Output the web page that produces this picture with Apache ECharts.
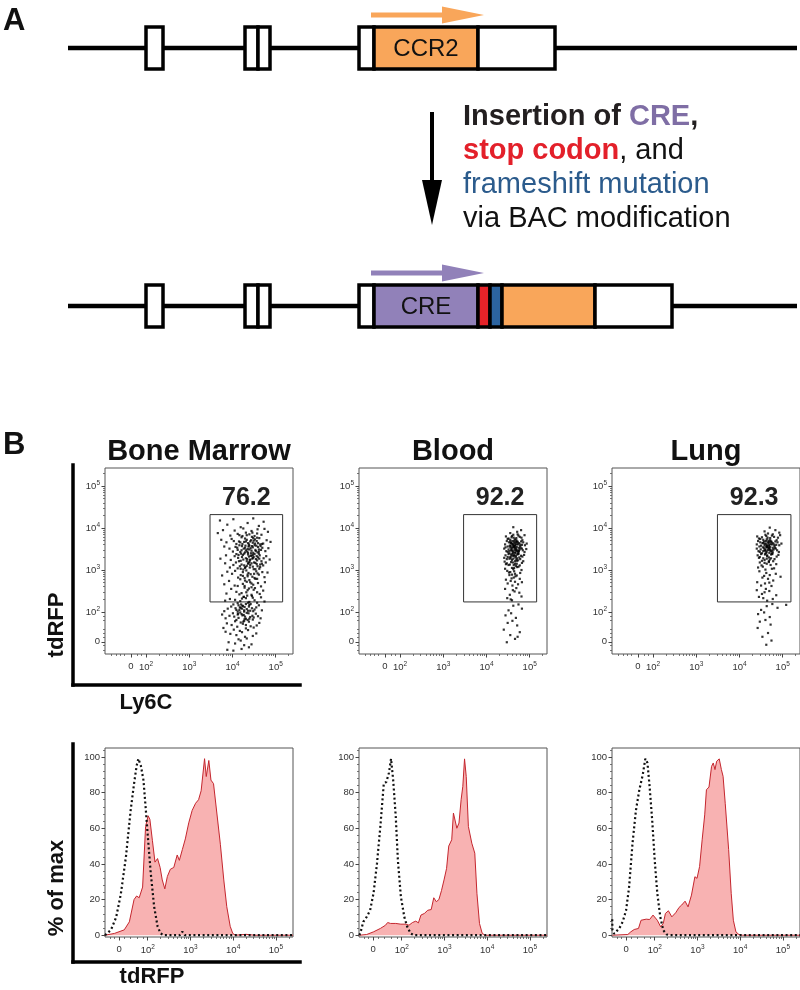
<!DOCTYPE html>
<html><head><meta charset="utf-8">
<script src="https://cdn.jsdelivr.net/npm/echarts@6/dist/echarts.min.js"></script>
<style>html,body{margin:0;padding:0;background:#fff}#c{width:800px;height:990px}</style>
</head><body><div id="c"></div>
<script>
const FONT = '"Liberation Sans", Arial, sans-serif';

// ---------- Panel A: gene diagram (gene coordinate units) ----------
const ROW_Y = [48, 306];
const geneBackbone = [[68, 797, 0], [68, 797, 1]];
const geneSegments = [
  [146,163,0,'exon'],[245,258,0,'exon'],[258,270,0,'exon'],[359,374,0,'exon'],[374,478,0,'ccr2'],[478,555,0,'exon'],
  [146,163,1,'exon'],[245,258,1,'exon'],[258,270,1,'exon'],[359,374,1,'exon'],[374,478,1,'cre'],[478,490,1,'stop'],[490,502,1,'frame'],[502,595,1,'ccr2'],[595,672,1,'exon']
];
const geneLabels = [[426,0,'CCR2'],[426,1,'CRE']];
const geneArrows = [[371,484,0,'ccr2'],[371,484,1,'cre']];
const modArrow = [[432,112,225]];
const GENE_COLORS = {exon:'#ffffff', ccr2:'#f9a65a', cre:'#9181b9', stop:'#e52329', frame:'#2c64a0'};

// ---------- Panel B: categories ----------
const tissues = ['Bone Marrow', 'Blood', 'Lung'];
const gatePercent = ['76.2', '92.2', '92.3'];
const gateX = [[3.48, 5.16], [3.47, 5.16], [3.49, 5.19]];
const gateY = [[2.24, 4.32], [2.24, 4.32], [2.24, 4.32]];

// tick labels (display units: 1 unit = 1 decade)
const expTickText = ['0', '10^2', '10^3', '10^4', '10^5'];
const scatterXTickVals = [1.65, 2, 3, 4, 5];
const scatterYTickVals = [1.29, 2, 3, 4, 5];
const histXTickVals = [1.33, 2, 3, 4, 5];
const histYTickVals = [0, 20, 40, 60, 80, 100];

// ---------- Ly6C (x) vs tdRFP (y) dots, display units ----------
const bmDots = [
[4.02,4.21],[4.35,4.12],[4.61,4.05],[3.88,4.08],[4.48,4.23],[4.19,4.02],[4.72,4.15],[3.71,4.18],
[4.44,3.93],[4.12,3.86],[4.58,3.97],[3.95,3.82],[4.31,3.89],[4.67,3.84],[4.25,3.99],[4.82,3.91],[3.78,3.95],[4.51,3.81],[4.05,3.94],[4.39,3.85],[4.74,3.98],[4.16,3.83],[3.66,3.88],
[4.33,3.72],[4.47,3.65],[4.21,3.78],[4.56,3.69],[4.09,3.62],[4.62,3.76],[4.38,3.61],[4.27,3.67],[4.71,3.63],[3.98,3.74],[4.45,3.79],[4.15,3.68],[4.52,3.73],[3.86,3.66],[4.79,3.71],[4.41,3.68],[4.29,3.75],[4.64,3.61],[4.03,3.69],[4.57,3.77],[3.74,3.72],[4.36,3.64],[4.88,3.67],[4.23,3.62],[4.49,3.70],
[4.42,3.52],[4.31,3.47],[4.55,3.58],[4.18,3.43],[4.61,3.49],[4.37,3.56],[4.26,3.51],[4.48,3.41],[4.07,3.55],[4.69,3.53],[4.34,3.44],[4.51,3.59],[4.12,3.48],[4.44,3.46],[4.58,3.42],[3.93,3.51],[4.39,3.58],[4.22,3.57],[4.76,3.45],[4.47,3.54],[4.29,3.42],[4.65,3.57],[4.01,3.44],[4.53,3.48],[4.35,3.50],[3.81,3.56],[4.83,3.52],[4.16,3.59],[4.43,3.40],[4.59,3.55],
[4.38,3.32],[4.46,3.27],[4.24,3.36],[4.57,3.23],[4.13,3.29],[4.63,3.35],[4.33,3.21],[4.51,3.38],[4.05,3.33],[4.41,3.25],[4.72,3.28],[4.27,3.39],[4.49,3.31],[3.96,3.24],[4.36,3.37],[4.59,3.30],[4.19,3.22],[4.44,3.34],[4.67,3.21],[3.85,3.35],[4.31,3.28],[4.54,3.26],[4.09,3.38],[4.78,3.33],[4.40,3.23],[4.22,3.31],[4.61,3.39],[3.72,3.27],[4.47,3.36],[4.86,3.25],
[4.41,3.12],[4.29,3.05],[4.53,3.17],[4.17,3.09],[4.62,3.03],[4.36,3.15],[4.47,3.08],[4.08,3.18],[4.71,3.11],[4.25,3.01],[4.56,3.14],[3.94,3.06],[4.39,3.19],[4.64,3.07],[4.21,3.13],[4.49,3.02],[3.83,3.16],[4.33,3.10],[4.77,3.18],[4.12,3.04],[4.58,3.09],[4.44,3.16],[4.02,3.12],[4.68,3.15],[4.30,3.07],
[4.37,2.93],[4.24,2.86],[4.55,2.97],[4.13,2.82],[4.61,2.89],[4.32,2.99],[4.46,2.84],[3.99,2.91],[4.69,2.95],[4.19,2.88],[4.51,2.81],[3.88,2.96],[4.42,2.90],[4.74,2.83],[4.06,2.98],[4.58,2.92],[4.28,2.81],[3.76,2.87],[4.81,2.94],[4.35,2.85],
[4.33,2.72],[4.48,2.65],[4.18,2.78],[4.59,2.69],[4.05,2.63],[4.39,2.76],[4.66,2.61],[4.24,2.67],[3.92,2.74],[4.53,2.79],[4.12,2.62],[4.75,2.71],[4.44,2.68],[3.81,2.66],[4.29,2.75],
[4.35,2.52],[4.21,2.45],[4.52,2.57],[4.09,2.48],[4.63,2.43],[4.28,2.58],[4.44,2.41],[3.97,2.55],[4.71,2.51],[4.16,2.42],[4.57,2.47],[4.38,2.56],[3.86,2.44],[4.49,2.53],
[4.31,2.33],[4.18,2.26],[4.45,2.38],[4.06,2.29],[4.57,2.22],[4.26,2.36],[4.39,2.24],[3.94,2.31],[4.66,2.35],[4.12,2.21],[4.51,2.28],[4.34,2.39],[3.83,2.27],[4.74,2.25],[4.22,2.32],[4.47,2.34],
[4.28,2.12],[4.16,2.05],[4.39,2.17],[4.07,2.09],[4.48,2.02],[4.23,2.15],[4.33,2.07],[3.97,2.13],[4.55,2.11],[4.12,2.01],[4.42,2.19],[4.27,2.04],[3.89,2.08],[4.61,2.16],[4.19,2.10],[4.36,2.03],[4.02,2.18],[4.51,2.06],[4.24,2.14],[3.81,2.02],[4.45,2.09],[4.14,2.16],[4.68,2.04],[4.31,2.19],[4.09,2.05],
[4.26,1.93],[4.14,1.86],[4.37,1.97],[4.04,1.89],[4.47,1.82],[4.21,1.95],[4.31,1.84],[3.93,1.91],[4.54,1.96],[4.09,1.81],[4.41,1.88],[4.18,1.99],[3.84,1.85],[4.59,1.90],[4.28,1.83],[4.01,1.97],[4.49,1.87],[4.23,1.92],[3.76,1.94],[4.35,1.81],[4.65,1.85],[4.12,1.94],
[4.24,1.72],[4.11,1.65],[4.38,1.77],[3.98,1.69],[4.49,1.63],[4.19,1.75],[4.31,1.61],[3.87,1.73],[4.56,1.68],[4.06,1.78],[4.42,1.66],[4.27,1.79],[3.79,1.62],[4.62,1.74],
[4.22,1.52],[4.09,1.45],[4.36,1.57],[3.95,1.48],[4.47,1.43],[4.17,1.55],[4.29,1.41],[3.84,1.53],[4.55,1.49],[4.03,1.58],
[4.19,1.32],[4.06,1.25],[4.33,1.37],[3.91,1.28],[4.44,1.23],[4.14,1.35],[4.27,1.21],
[4.21,1.12],[4.02,1.08],[4.38,1.16],[3.88,1.10],
[4.36,3.41],[4.52,3.63],[4.21,3.47],[4.47,3.29],[4.30,3.58],[4.61,3.44],[4.14,3.36],[4.43,3.71],[4.56,3.33],[4.25,3.25],[4.39,3.49],[4.68,3.62],[4.18,3.66],[4.50,3.18],[4.33,3.83],[4.62,3.27],[4.27,3.11],[4.45,3.57],[4.11,3.53],[4.57,3.87],[4.40,3.06],[4.23,3.81],[4.54,3.45],[4.34,3.26],[4.66,3.48],[4.20,3.39],[4.48,3.76],[4.37,3.17],[4.59,3.64],[4.29,3.53],[4.42,3.34],[4.15,3.21],[4.53,3.02],[4.31,3.68],[4.64,3.13],[4.24,2.95],[4.46,3.89],[4.35,2.89],[4.57,2.79],[4.19,3.03],[4.41,2.71],[4.28,2.62],[4.50,2.91],[4.32,2.47],[4.44,2.59],[4.26,2.36],[4.38,2.13],[4.22,2.08],[4.33,1.98],[4.17,2.11],[4.29,1.89],[4.41,2.03],[4.25,1.77],[4.36,2.22],[4.13,1.96],[4.46,1.91],[4.31,1.69],[4.20,2.18],[4.39,1.84],[4.27,2.01]
];
const bloodDots = [
[4.62,4.02],[4.71,3.91],[4.55,3.88],[4.80,3.95],
[4.58,3.78],[4.66,3.73],[4.74,3.82],[4.51,3.75],[4.83,3.71],[4.62,3.84],[4.69,3.76],[4.45,3.80],[4.77,3.79],[4.55,3.72],[4.88,3.83],[4.64,3.70],[4.72,3.85],[4.49,3.74],[4.59,3.81],[4.81,3.77],
[4.61,3.62],[4.68,3.67],[4.54,3.58],[4.75,3.64],[4.47,3.69],[4.82,3.60],[4.64,3.56],[4.71,3.68],[4.57,3.65],[4.89,3.59],[4.43,3.61],[4.66,3.63],[4.78,3.57],[4.52,3.66],[4.70,3.55],[4.60,3.69],[4.85,3.66],[4.49,3.56],[4.73,3.61],[4.63,3.58],[4.56,3.64],[4.80,3.68],[4.67,3.60],[4.93,3.63],
[4.65,3.48],[4.58,3.52],[4.72,3.44],[4.51,3.49],[4.79,3.53],[4.62,3.41],[4.69,3.50],[4.46,3.45],[4.84,3.47],[4.55,3.54],[4.74,3.42],[4.60,3.46],[4.67,3.53],[4.41,3.51],[4.88,3.43],[4.53,3.40],[4.77,3.49],[4.63,3.55],[4.70,3.46],[4.49,3.43],[4.82,3.51],[4.57,3.47],[4.66,3.42],[4.92,3.50],[4.44,3.54],[4.75,3.45],
[4.63,3.33],[4.56,3.28],[4.71,3.37],[4.49,3.31],[4.78,3.26],[4.60,3.39],[4.67,3.30],[4.44,3.35],[4.83,3.32],[4.53,3.27],[4.74,3.38],[4.58,3.34],[4.69,3.25],[4.41,3.29],[4.87,3.36],[4.51,3.38],[4.76,3.30],[4.62,3.27],[4.65,3.36],[4.47,3.26],[4.80,3.34],[4.55,3.31],
[4.61,3.18],[4.54,3.13],[4.70,3.22],[4.47,3.16],[4.77,3.11],[4.59,3.24],[4.66,3.15],[4.42,3.20],[4.82,3.17],[4.51,3.12],[4.73,3.23],[4.57,3.19],[4.68,3.10],[4.45,3.14],[4.85,3.21],[4.63,3.12],
[4.62,3.02],[4.55,2.95],[4.71,3.07],[4.48,2.98],[4.78,2.93],[4.59,3.05],[4.66,2.91],[4.43,3.03],[4.81,3.00],[4.52,2.94],[4.74,3.08],[4.64,2.97],
[4.63,2.82],[4.56,2.74],[4.70,2.87],[4.49,2.68],[4.77,2.79],[4.60,2.63],[4.67,2.85],[4.45,2.77],[4.82,2.71],[4.53,2.88],[4.73,2.66],[4.58,2.80],
[4.61,2.52],[4.54,2.41],[4.69,2.57],[4.48,2.33],[4.76,2.46],[4.59,2.28],[4.65,2.49],[4.43,2.55],[4.81,2.37],[4.56,2.30],
[4.62,2.15],[4.51,2.04],[4.74,2.18],[4.44,1.92],[4.68,1.86],[4.57,1.97],[4.82,2.08],[4.49,1.74],[4.71,1.68],[4.60,1.79],[4.40,1.58],[4.77,1.52],[4.55,1.45],[4.66,1.36],[4.47,1.28],[4.72,1.41],
[4.66,3.57],[4.61,3.44],[4.70,3.62],[4.58,3.49],[4.73,3.39],[4.64,3.66],[4.68,3.47],[4.56,3.58],[4.75,3.53],[4.62,3.35],[4.69,3.71],[4.59,3.63],[4.71,3.28],[4.65,3.52],[4.53,3.45],[4.78,3.61],[4.63,3.77],[4.67,3.41],[4.60,3.54],[4.72,3.67],[4.57,3.37],[4.66,3.21],[4.74,3.47],[4.61,3.59],[4.68,3.33],[4.55,3.68],[4.70,3.15],[4.64,3.05],[4.59,2.89],[4.66,2.72]
];
const lungDots = [
[4.70,4.01],[4.58,3.92],[4.83,3.95],[4.66,3.87],[4.92,3.89],
[4.52,3.78],[4.63,3.73],[4.75,3.82],[4.45,3.75],[4.86,3.71],[4.60,3.84],[4.71,3.76],[4.41,3.80],[4.80,3.79],[4.55,3.72],[4.94,3.83],[4.67,3.70],[4.77,3.85],[4.48,3.74],[4.62,3.81],[4.89,3.77],
[4.58,3.62],[4.69,3.67],[4.50,3.58],[4.77,3.64],[4.43,3.69],[4.85,3.60],[4.64,3.56],[4.73,3.68],[4.55,3.65],[4.92,3.59],[4.40,3.61],[4.67,3.63],[4.81,3.57],[4.48,3.66],[4.71,3.55],[4.61,3.69],[4.88,3.66],[4.46,3.56],[4.75,3.61],[4.63,3.58],[4.53,3.64],[4.83,3.68],[4.69,3.60],[4.97,3.63],
[4.66,3.48],[4.57,3.52],[4.74,3.44],[4.49,3.49],[4.82,3.53],[4.62,3.41],[4.70,3.50],[4.44,3.45],[4.87,3.47],[4.54,3.54],[4.77,3.42],[4.60,3.46],[4.68,3.53],[4.40,3.51],[4.91,3.43],[4.52,3.40],[4.79,3.49],[4.64,3.55],[4.72,3.46],[4.47,3.43],[4.84,3.51],[4.58,3.47],
[4.64,3.33],[4.55,3.28],[4.73,3.37],[4.47,3.31],[4.81,3.26],[4.60,3.39],[4.68,3.30],[4.42,3.35],[4.86,3.32],[4.52,3.22],[4.76,3.38],[4.58,3.24],[4.70,3.25],[4.45,3.29],[4.90,3.36],[4.50,3.38],[4.78,3.21],[4.63,3.27],
[4.63,3.15],[4.54,3.08],[4.72,3.12],[4.47,3.18],[4.80,3.04],[4.60,3.01],[4.68,3.19],[4.43,3.06],[4.85,3.14],[4.51,3.11],[4.75,3.03],[4.58,3.17],
[4.62,2.93],[4.53,2.82],[4.70,2.88],[4.46,2.97],[4.78,2.75],[4.59,2.68],[4.66,2.79],[4.41,2.71],[4.84,2.91],[4.50,2.63],[4.74,2.62],[4.57,2.86],[4.69,2.70],[4.95,2.84],
[4.61,2.55],[4.52,2.43],[4.69,2.50],[4.45,2.36],[4.77,2.31],[4.58,2.47],[4.64,2.27],[4.40,2.52],[4.85,2.40],[4.55,2.33],
[4.63,2.14],[4.50,2.05],[4.76,2.19],[4.43,1.95],[4.70,1.88],[4.57,1.99],[4.88,2.10],[5.08,2.17],[4.47,1.77],[4.72,1.70],[4.60,1.81],[4.42,1.62],[4.66,1.50],[4.53,1.41],[4.74,1.32],[4.62,1.22],
[4.68,3.57],[4.63,3.44],[4.72,3.62],[4.60,3.49],[4.75,3.39],[4.66,3.66],[4.70,3.47],[4.58,3.58],[4.77,3.53],[4.64,3.35],[4.71,3.71],[4.61,3.63],[4.73,3.28],[4.67,3.52],[4.55,3.45],[4.80,3.61],[4.65,3.77],[4.69,3.41],[4.62,3.54],[4.74,3.67],[4.59,3.37],[4.68,3.21],[4.76,3.47],[4.63,3.59],[4.57,3.68]
];

// ---------- tdRFP histograms: [display x, % of max] ----------
const bmFill = [[1.00,0],[1.02,0],[1.22,1],[1.45,3],[1.57,7.5],[1.68,20],[1.74,22],[1.80,21],[1.88,27],[1.95,61],[2.01,67],[2.05,65],[2.11,53],[2.17,41],[2.23,43],[2.29,38],[2.34,31],[2.40,26],[2.46,33],[2.53,37],[2.61,38],[2.69,45],[2.74,42],[2.81,48],[2.88,54],[2.96,63],[3.04,70],[3.12,74],[3.16,73],[3.19,76],[3.25,81],[3.33,99],[3.37,89],[3.43,98],[3.48,87],[3.54,85],[3.62,68],[3.70,51],[3.78,31],[3.85,16],[3.93,5],[3.99,1],[4.05,0],[4.30,0.5],[4.50,0],[5.40,0]];
const bmCtrl = [[1.00,0],[1.02,0.5],[1.14,3],[1.26,10],[1.37,23],[1.49,44],[1.60,70],[1.68,85],[1.74,95],[1.78,99],[1.84,95],[1.90,87],[1.95,72],[2.01,53],[2.07,35],[2.15,16],[2.23,5],[2.30,1],[2.38,0],[2.75,0],[2.81,2],[2.87,0],[5.40,0]];
const bloodFill = [[1.01,0],[1.18,0.4],[1.34,1.9],[1.50,3.8],[1.62,5.6],[1.67,7.1],[1.74,6.6],[1.86,6.6],[1.98,6.2],[2.10,6.2],[2.17,5.6],[2.25,7.1],[2.33,7.9],[2.39,6.9],[2.45,11.3],[2.53,12.2],[2.61,14],[2.69,14.4],[2.75,21],[2.81,18.8],[2.87,20],[2.93,25],[2.99,31],[3.05,37.5],[3.10,50],[3.17,53.5],[3.21,68.5],[3.25,69.4],[3.29,60],[3.34,62.9],[3.39,76],[3.43,83.5],[3.47,98.9],[3.51,89],[3.56,61],[3.64,51.6],[3.71,46],[3.76,23.5],[3.82,6.6],[3.88,1.3],[3.94,0],[5.40,0]];
const bloodCtrl = [[1.01,0],[1.04,2],[1.10,7.5],[1.18,10.3],[1.26,14],[1.34,23.5],[1.42,40],[1.50,61],[1.58,85],[1.64,86],[1.70,91],[1.75,99],[1.80,87],[1.86,66.6],[1.91,42],[1.98,21.6],[2.06,10.3],[2.13,4.7],[2.21,0.9],[2.29,0],[5.40,0]];
const lungFill = [[1.01,0],[1.37,0.4],[1.44,1.9],[1.52,3.2],[1.62,3.8],[1.68,8.4],[1.72,9.4],[1.80,9],[1.88,8.8],[1.96,11.3],[2.00,11.8],[2.06,8.4],[2.14,4.7],[2.20,6.6],[2.25,12.2],[2.32,13.7],[2.40,10.3],[2.49,12.6],[2.57,15.6],[2.63,16.9],[2.71,19.1],[2.78,15.9],[2.86,22.5],[2.94,32.8],[2.99,31.9],[3.05,38.5],[3.11,53.5],[3.17,67.5],[3.21,81.6],[3.27,83.1],[3.33,94.7],[3.37,96.6],[3.41,92.9],[3.45,97.6],[3.51,98.9],[3.56,92.9],[3.60,89.1],[3.65,74],[3.68,73.2],[3.73,48],[3.79,23.5],[3.84,8.4],[3.90,1.9],[3.97,0.4],[4.05,0],[5.40,0]];
const lungCtrl = [[1.005,9],[1.01,3],[1.05,0.8],[1.09,1.9],[1.17,3.8],[1.25,7.5],[1.33,14],[1.40,27],[1.48,51.5],[1.56,70],[1.64,81.6],[1.72,90],[1.78,99],[1.83,96.6],[1.88,83.5],[1.94,64.7],[2.00,42],[2.06,23.5],[2.13,10.3],[2.20,2.8],[2.28,0.4],[2.36,0],[5.40,0]];

const dotSets = [bmDots, bloodDots, lungDots];
const fillSets = [bmFill, bloodFill, lungFill];
const ctrlSets = [bmCtrl, bloodCtrl, lungCtrl];

// ---------- layout ----------
const PANEL_LEFT = [105, 359, 612];
const PANEL_W = 188;

function logMinor(decades, extra, max) {
  const out = extra.slice();
  decades.forEach(d => { for (let k = 2; k <= 9; k++) { const v = d + Math.log10(k); if (v < max) out.push(v); } });
  return out;
}
const scatterXMinor = logMinor([2,3,4,5], [1.2,1.3,1.4,1.5,1.8,1.9], 5.40);
const scatterYMinor = logMinor([2,3,4,5], [1.1,1.2,1.4,1.5,1.6,1.8,1.9], 5.43);
const histXMinor = logMinor([2,3,4,5], [1.12,1.22,1.45,1.6,1.75,1.9], 5.40);
const histYMinor = []; for (let v = 4; v <= 104; v += 4) if (v % 20) histYMinor.push(v);

const expRich = {
  b: {fontSize: 9.5, color: '#333', fontFamily: FONT},
  s: {fontSize: 6.5, color: '#333', fontFamily: FONT, padding: [0, 0, 6, 0]}
};
function expFormatter(vals) {
  return function (v) {
    let best = 0;
    for (let i = 1; i < vals.length; i++) if (Math.abs(vals[i] - v) < Math.abs(vals[best] - v)) best = i;
    const t = expTickText[best];
    if (t.indexOf('^') < 0) return '{b|' + t + '}';
    const p = t.split('^');
    return '{b|' + p[0] + '}{s|' + p[1] + '}';
  };
}

const grids = [], xAxes = [], yAxes = [], series = [];
const addGrid = g => (grids.push(g), grids.length - 1);
const addX = a => (xAxes.push(a), xAxes.length - 1);
const addY = a => (yAxes.push(a), yAxes.length - 1);

function majorAxis(gi, pos, min, max, vals, fmt, margin) {
  return {gridIndex: gi, type: 'value', min, max, position: pos,
    axisLine: {show: false, onZero: false}, splitLine: {show: false},
    axisTick: {show: true, length: 3.5, lineStyle: {color: '#444', width: 1}, customValues: vals},
    axisLabel: {show: true, customValues: vals, formatter: fmt, rich: expRich, margin,
      color: '#333', fontSize: 9.5, fontFamily: FONT}};
}
function minorAxis(gi, pos, min, max, vals) {
  return {gridIndex: gi, type: 'value', min, max, position: pos,
    axisLine: {show: false, onZero: false}, splitLine: {show: false}, axisLabel: {show: false},
    axisTick: {show: true, length: 2, lineStyle: {color: '#555', width: 0.8}, customValues: vals}};
}

// Panel A grid
const gA = addGrid({left: 0, top: 0, width: 800, height: 340});
const xA = addX({gridIndex: gA, type: 'value', min: 0, max: 800, show: false});
const yA = addY({gridIndex: gA, type: 'value', min: 0, max: 340, inverse: true, show: false});

series.push({
  type: 'custom', coordinateSystem: 'cartesian2d', xAxisIndex: xA, yAxisIndex: yA, silent: true, z: 1,
  data: geneBackbone.map(d => [d[0], ROW_Y[d[2]]]),
  renderItem: (params, api) => {
    const d = geneBackbone[params.dataIndex];
    const a = api.coord([d[0], ROW_Y[d[2]]]), b = api.coord([d[1], ROW_Y[d[2]]]);
    return {type: 'line', shape: {x1: a[0], y1: a[1], x2: b[0], y2: b[1]}, style: {stroke: '#000', lineWidth: 4.5}};
  }
});
series.push({
  type: 'custom', coordinateSystem: 'cartesian2d', xAxisIndex: xA, yAxisIndex: yA, silent: true, z: 2,
  data: geneSegments.map(d => [d[0], ROW_Y[d[2]]]),
  renderItem: (params, api) => {
    const d = geneSegments[params.dataIndex];
    const a = api.coord([d[0], ROW_Y[d[2]]]), b = api.coord([d[1], ROW_Y[d[2]]]);
    return {type: 'rect', shape: {x: a[0], y: a[1] - 21, width: b[0] - a[0], height: 42},
      style: {fill: GENE_COLORS[d[3]], stroke: '#000', lineWidth: 3.5, lineJoin: 'miter'}};
  }
});
series.push({
  type: 'custom', coordinateSystem: 'cartesian2d', xAxisIndex: xA, yAxisIndex: yA, silent: true, z: 3,
  data: geneLabels.map(d => [d[0], ROW_Y[d[1]]]),
  renderItem: (params, api) => {
    const d = geneLabels[params.dataIndex];
    const a = api.coord([d[0], ROW_Y[d[1]]]);
    return {type: 'text', x: a[0], y: a[1] + 1, style: {text: d[2], fill: '#111', font: '24px ' + FONT,
      align: 'center', verticalAlign: 'middle', textAlign: 'center', textVerticalAlign: 'middle'}};
  }
});
series.push({
  type: 'custom', coordinateSystem: 'cartesian2d', xAxisIndex: xA, yAxisIndex: yA, silent: true, z: 3,
  data: geneArrows.map(d => [d[0], ROW_Y[d[2]]]),
  renderItem: (params, api) => {
    const d = geneArrows[params.dataIndex];
    const a = api.coord([d[0], ROW_Y[d[2]] - 33]), b = api.coord([d[1], ROW_Y[d[2]] - 33]);
    const head = 42, hh = 8.5, sh = 2.6, c = GENE_COLORS[d[3]];
    return {type: 'group', children: [
      {type: 'rect', shape: {x: a[0], y: a[1] - sh, width: b[0] - a[0] - head + 1, height: 2 * sh}, style: {fill: c}},
      {type: 'polygon', shape: {points: [[b[0] - head, a[1] - hh], [b[0], a[1]], [b[0] - head, a[1] + hh]]}, style: {fill: c}}
    ]};
  }
});
series.push({
  type: 'custom', coordinateSystem: 'cartesian2d', xAxisIndex: xA, yAxisIndex: yA, silent: true, z: 3,
  data: modArrow.map(d => [d[0], d[1]]),
  renderItem: (params, api) => {
    const d = modArrow[params.dataIndex];
    const t = api.coord([d[0], d[1]]), b = api.coord([d[0], d[2]]);
    const head = 45, hw = 10;
    return {type: 'group', children: [
      {type: 'rect', shape: {x: t[0] - 2, y: t[1], width: 4, height: b[1] - t[1] - head + 2}, style: {fill: '#000'}},
      {type: 'polygon', shape: {points: [[t[0] - hw, b[1] - head], [t[0] + hw, b[1] - head], [t[0], b[1]]]}, style: {fill: '#000'}}
    ]};
  }
});

// Panel B grids
for (let p = 0; p < 3; p++) {
  const L = PANEL_LEFT[p];
  // scatter
  const gs = addGrid({left: L, top: 468, width: PANEL_W, height: 186, show: true, borderColor: '#555', borderWidth: 1});
  const sx = addX(majorAxis(gs, 'bottom', 1.05, 5.40, scatterXTickVals, expFormatter(scatterXTickVals), 7));
  addX(minorAxis(gs, 'bottom', 1.05, 5.40, scatterXMinor));
  const sy = addY(majorAxis(gs, 'left', 1.0, 5.43, scatterYTickVals, expFormatter(scatterYTickVals), 5));
  addY(minorAxis(gs, 'left', 1.0, 5.43, scatterYMinor));
  series.push({
    type: 'scatter', xAxisIndex: sx, yAxisIndex: sy, data: dotSets[p], symbol: 'rect', symbolSize: 2.2,
    itemStyle: {color: '#000'}, silent: true, z: 3,
    markArea: {silent: true,
      itemStyle: {color: 'rgba(0,0,0,0)', borderColor: '#333', borderWidth: 1},
      label: {show: true, position: 'top', distance: 3, formatter: gatePercent[p], fontSize: 25, fontWeight: 'bold', color: '#222', fontFamily: FONT},
      data: [[{xAxis: gateX[p][0], yAxis: gateY[p][0]}, {xAxis: gateX[p][1], yAxis: gateY[p][1]}]]}
  });
  // histogram
  const gh = addGrid({left: L, top: 748, width: PANEL_W, height: 189, show: true, borderColor: '#555', borderWidth: 1});
  const hx = addX(majorAxis(gh, 'bottom', 1.0, 5.40, histXTickVals, expFormatter(histXTickVals), 7));
  addX(minorAxis(gh, 'bottom', 1.0, 5.40, histXMinor));
  const hy = addY(majorAxis(gh, 'left', -1, 105, histYTickVals, v => '{b|' + Math.round(v) + '}', 5));
  addY(minorAxis(gh, 'left', -1, 105, histYMinor));
  series.push({type: 'line', xAxisIndex: hx, yAxisIndex: hy, data: fillSets[p], symbol: 'none', silent: true, z: 2,
    lineStyle: {color: '#c4262e', width: 1}, areaStyle: {color: '#f8b2b2', opacity: 1}});
  series.push({type: 'line', xAxisIndex: hx, yAxisIndex: hy, data: ctrlSets[p], symbol: 'none', silent: true, z: 3,
    lineStyle: {color: '#111', width: 2.2, type: [2, 2.6]}});
}

// outer L-shaped axes (Bone Marrow column)
[[465, 220], [744, 218]].forEach(([top, h]) => {
  const g = addGrid({left: 73, top, width: 227, height: h});
  const ax = {gridIndex: g, type: 'value', min: 0, max: 1,
    axisLine: {show: true, onZero: false, lineStyle: {color: '#000', width: 3.5, cap: 'square'}},
    axisTick: {show: false}, axisLabel: {show: false}, splitLine: {show: false}};
  addX(Object.assign({position: 'bottom'}, ax));
  addY(Object.assign({position: 'left'}, ax));
});

const txt = (x, y, text, font, extra) => Object.assign({type: 'text', x, y, silent: true,
  style: {text, font, fill: '#111', align: 'center', verticalAlign: 'middle', textAlign: 'center', textVerticalAlign: 'middle'}}, extra || {});

const graphic = [
  {type: 'text', x: 3, y: 21, silent: true, style: {text: 'A', font: 'bold 31px ' + FONT, fill: '#111', verticalAlign: 'middle', textVerticalAlign: 'middle'}},
  {type: 'text', x: 3, y: 445, silent: true, style: {text: 'B', font: 'bold 31px ' + FONT, fill: '#111', verticalAlign: 'middle', textVerticalAlign: 'middle'}},
  {type: 'text', x: 463, y: 100, silent: true, style: {
    text: '{b|Insertion of }{p|CRE}{b|,}\n{r|stop codon}{n|, and}\n{bl|frameshift mutation}\n{n|via BAC modification}',
    rich: {
      b: {fontSize: 29, fontWeight: 'bold', fontFamily: FONT, fill: '#231f20', lineHeight: 34},
      p: {fontSize: 29, fontWeight: 'bold', fontFamily: FONT, fill: '#7f6ea5', lineHeight: 34},
      r: {fontSize: 29, fontWeight: 'bold', fontFamily: FONT, fill: '#e3202a', lineHeight: 34},
      n: {fontSize: 29, fontFamily: FONT, fill: '#111', lineHeight: 34},
      bl: {fontSize: 29, fontFamily: FONT, fill: '#2b5b8c', lineHeight: 34}
    }}},
  txt(57, 625, 'tdRFP', 'bold 22px ' + FONT, {rotation: Math.PI / 2}),
  txt(146, 703, 'Ly6C', 'bold 22px ' + FONT),
  txt(57, 888, '% of max', 'bold 22px ' + FONT, {rotation: Math.PI / 2}),
  txt(152, 977, 'tdRFP', 'bold 22px ' + FONT)
];
tissues.forEach((t, p) => graphic.push(txt(PANEL_LEFT[p] + PANEL_W / 2, 452, t, 'bold 29px ' + FONT)));

const chart = echarts.init(document.getElementById('c'), null, {renderer: 'canvas'});
chart.setOption({
  animation: false, backgroundColor: '#fff',
  textStyle: {fontFamily: FONT},
  grid: grids, xAxis: xAxes, yAxis: yAxes, series, graphic
});
</script></body></html>
